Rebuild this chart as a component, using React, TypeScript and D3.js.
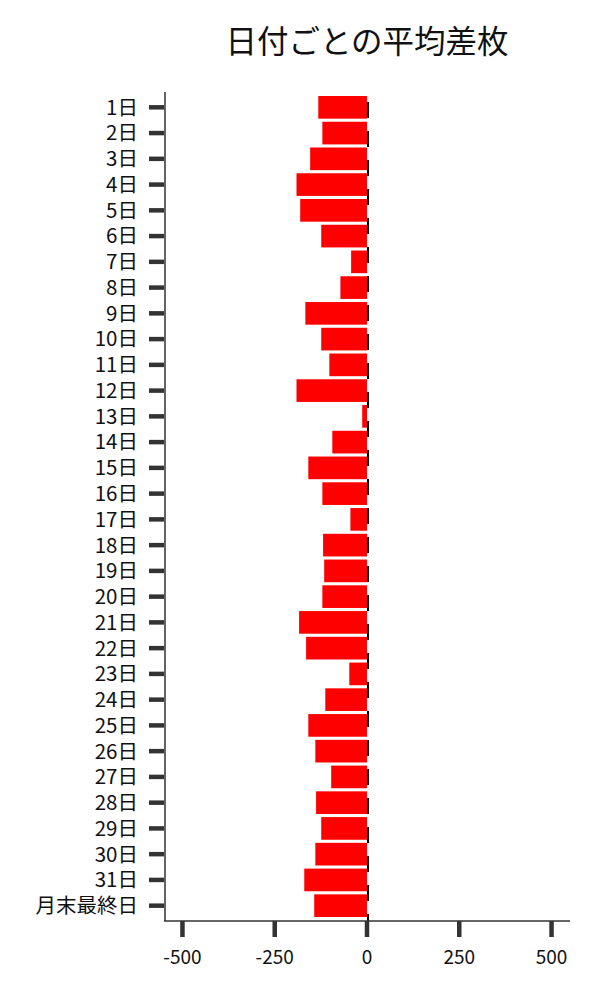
import React, { useEffect, useRef } from 'react';
import * as d3 from 'd3';

// categories (top to bottom)
const days: string[] = [
  '1日', '2日', '3日', '4日', '5日', '6日', '7日', '8日', '9日', '10日',
  '11日', '12日', '13日', '14日', '15日', '16日', '17日', '18日', '19日', '20日',
  '21日', '22日', '23日', '24日', '25日', '26日', '27日', '28日', '29日', '30日',
  '31日', '月末最終日',
];

// average difference per day
const avgDiff: number[] = [
  -132, -121, -154, -191, -181, -124, -43, -72, -167, -124,
  -102, -191, -13, -94, -159, -121, -45, -119, -116, -121,
  -184, -165, -48, -113, -159, -140, -97, -138, -124, -140,
  -170, -143,
];

const xTicks: number[] = [-500, -250, 0, 250, 500];

const FONT = '"Noto Sans CJK JP", "Noto Sans", sans-serif';

const App: React.FC = () => {
  const svgRef = useRef<SVGSVGElement | null>(null);

  useEffect(() => {
    if (!svgRef.current) return;
    const svg = d3.select(svgRef.current);
    svg.selectAll('*').remove();

    const left = 164;
    const right = 570;
    const top = 92;
    const bottom = 921;

    const x = d3.scaleLinear().domain([-550, 550]).range([left, right]);
    const y = d3.scaleBand<string>()
      .domain(days)
      .range([top, bottom])
      .paddingInner(0.12)
      .paddingOuter(0.155);

    // title
    svg.append('text')
      .attr('x', (left + right) / 2)
      .attr('y', 53)
      .attr('text-anchor', 'middle')
      .style('font-family', FONT)
      .style('font-size', '31.5px')
      .attr('fill', '#111')
      .text('日付ごとの平均差枚');

    // bars
    svg.append('g').selectAll('rect')
      .data(avgDiff)
      .enter().append('rect')
      .attr('x', (d) => x(Math.min(0, d)))
      .attr('width', (d) => Math.abs(x(d) - x(0)))
      .attr('y', (_d, i) => y(days[i]) ?? 0)
      .attr('height', y.bandwidth())
      .attr('fill', '#ff0000');

    // zero line (dashed)
    svg.append('line')
      .attr('x1', x(0) + 1)
      .attr('x2', x(0) + 1)
      .attr('y1', top + 10)
      .attr('y2', bottom)
      .attr('stroke', '#000')
      .attr('stroke-width', 2)
      .attr('stroke-dasharray', '16,13');

    // y axis
    svg.append('line')
      .attr('x1', left + 1).attr('x2', left + 1)
      .attr('y1', top).attr('y2', bottom)
      .attr('stroke', '#111')
      .attr('stroke-width', 1.3);

    const yTicks = svg.append('g');
    days.forEach((d) => {
      const cy = (y(d) ?? 0) + y.bandwidth() / 2;
      yTicks.append('line')
        .attr('x1', 149).attr('x2', left)
        .attr('y1', cy).attr('y2', cy)
        .attr('stroke', '#333')
        .attr('stroke-width', 4.5);
      yTicks.append('text')
        .attr('x', 138)
        .attr('y', cy)
        .attr('dy', '0.36em')
        .attr('text-anchor', 'end')
        .style('font-family', FONT)
        .style('font-size', '20.5px')
        .attr('fill', '#111')
        .text(d);
    });

    // x axis
    svg.append('line')
      .attr('x1', left).attr('x2', right)
      .attr('y1', bottom).attr('y2', bottom)
      .attr('stroke', '#333')
      .attr('stroke-width', 1.3);

    const xAxis = svg.append('g');
    xTicks.forEach((t) => {
      xAxis.append('line')
        .attr('x1', x(t)).attr('x2', x(t))
        .attr('y1', bottom).attr('y2', bottom + 16)
        .attr('stroke', '#333')
        .attr('stroke-width', 4.5);
      xAxis.append('text')
        .attr('x', x(t))
        .attr('y', 964)
        .attr('text-anchor', 'middle')
        .style('font-family', FONT)
        .style('font-size', '19px')
        .attr('fill', '#111')
        .text(String(t));
    });
  }, []);

  return (
    <div style={{ position: 'absolute', top: 0, left: 0 }}>
      <svg ref={svgRef} width={600} height={1000} style={{ display: 'block', background: '#fff' }} />
    </div>
  );
};

export default App;
